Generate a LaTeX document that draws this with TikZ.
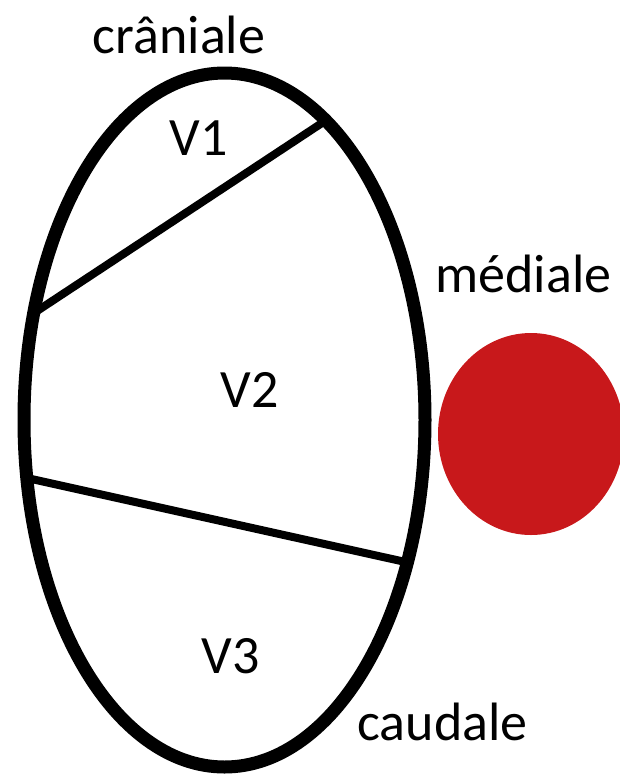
\documentclass[tikz,border=0pt]{standalone}
\usepackage{fontspec}
\setmainfont{Carlito}
\definecolor{dotred}{RGB}{200,24,27}
\begin{document}
\begin{tikzpicture}[x=1pt,y=-1pt,
  lbl/.style={inner sep=0pt,anchor=base,font=\fontsize{54}{60}\selectfont},
  rim/.style={draw=black,line width=13pt},
  divider/.style={draw=black,line width=8pt}]
\useasboundingbox (0,0) rectangle (620,774);
\draw[rim] (224.5,420) ellipse [x radius=200.5, y radius=347];
\fill[dotred] (531,434) ellipse [x radius=93, y radius=101];
\coordinate (a1) at (34,313);
\coordinate (a2) at (325,121);
\coordinate (b1) at (27,478);
\coordinate (b2) at (410,563);
\draw[divider] (a1) -- (a2);
\draw[divider] (b1) -- (b2);
\node[lbl] (cran) at (179,53) {crâniale};
\node[lbl] (v1) at (198.5,155) {V1};
\node[lbl] (med) at (523.5,292) {médiale};
\node[lbl] (v2) at (250,407) {V2};
\node[lbl] (v3) at (231,673) {V3};
\node[lbl] (caud) at (442.5,740) {caudale};
\end{tikzpicture}
\end{document}
